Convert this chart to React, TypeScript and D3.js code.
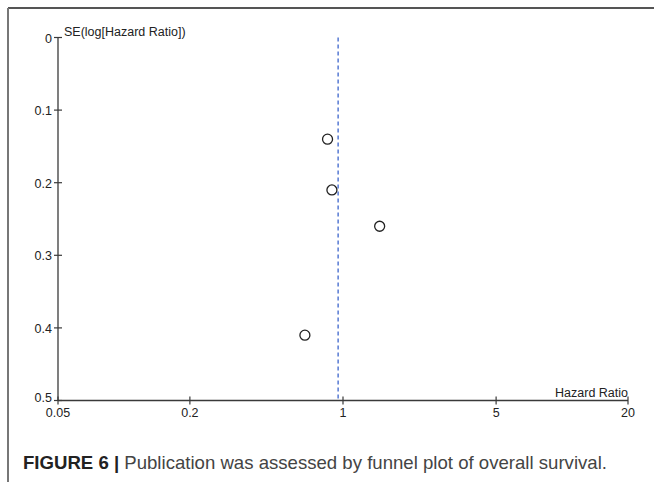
import * as d3 from 'd3';

// funnel plot values
const studyHR = [0.85, 0.89, 1.47, 0.67];
const studySE = [0.14, 0.21, 0.26, 0.41];
const pooledHR = 0.95;
const xTicks = [0.05, 0.2, 1, 5, 20];
const yTicks = [0, 0.1, 0.2, 0.3, 0.4, 0.5];

const W = 654;
const H = 482;
const font = '"Liberation Sans", Arial, sans-serif';

export default function App() {
  const x = d3.scaleLog().domain([0.05, 20]).range([58, 628]);
  const y = d3.scaleLinear().domain([0, 0.5]).range([37.5, 400.5]);
  const axisColor = '#3a3a3a';

  return (
    <svg
      width={W}
      height={H}
      style={{ position: 'absolute', left: 0, top: 0, background: '#fff' }}
      fontFamily={font}
    >
      {/* frame */}
      <line x1={8} x2={W} y1={8} y2={8} stroke="#555" strokeWidth={2} />
      <line x1={8} x2={8} y1={8} y2={H} stroke="#777" strokeWidth={2} />

      {/* pooled estimate */}
      <line
        x1={x(pooledHR)}
        x2={x(pooledHR)}
        y1={y(0)}
        y2={y(0.5)}
        stroke="#4a6fd0"
        strokeWidth={1.4}
        strokeDasharray="4,3"
      />

      {/* y axis */}
      <line x1={x(0.05)} x2={x(0.05)} y1={y(0)} y2={y(0.5)} stroke={axisColor} strokeWidth={1.3} />
      {yTicks.map((t) => (
        <g key={'y' + t}>
          <line x1={x(0.05) - 4} x2={x(0.05) + 4} y1={y(t)} y2={y(t)} stroke={axisColor} strokeWidth={1.2} />
          <text
            x={x(0.05) - 6}
            y={y(t) + (t === 0.5 ? 1 : 5)}
            textAnchor="end"
            fontSize={12.5}
            fill="#222"
          >
            {String(t)}
          </text>
        </g>
      ))}
      <text x={x(0.05) + 6} y={y(0) - 2} fontSize={12.5} fill="#222">
        SE(log[Hazard Ratio])
      </text>

      {/* x axis */}
      <line x1={x(0.05)} x2={x(20)} y1={y(0.5)} y2={y(0.5)} stroke={axisColor} strokeWidth={1.3} />
      {xTicks.map((t) => (
        <g key={'x' + t}>
          <line x1={x(t)} x2={x(t)} y1={y(0.5) - 4} y2={y(0.5) + 4} stroke={axisColor} strokeWidth={1.2} />
          <text x={x(t)} y={y(0.5) + 16} textAnchor="middle" fontSize={12.5} fill="#222">
            {String(t)}
          </text>
        </g>
      ))}
      <text x={x(20)} y={y(0.5) - 4} textAnchor="end" fontSize={12.5} fill="#222">
        Hazard Ratio
      </text>

      {/* studies */}
      {studyHR.map((hr, i) => (
        <circle
          key={'p' + i}
          cx={x(hr)}
          cy={y(studySE[i])}
          r={5}
          fill="none"
          stroke="#222"
          strokeWidth={1.3}
        />
      ))}

      {/* caption */}
      <text x={23} y={469} fontSize={18.6} fill="#444">
        <tspan fontWeight="bold" fill="#222">FIGURE 6 |</tspan>
        <tspan> Publication was assessed by funnel plot of overall survival.</tspan>
      </text>
    </svg>
  );
}
